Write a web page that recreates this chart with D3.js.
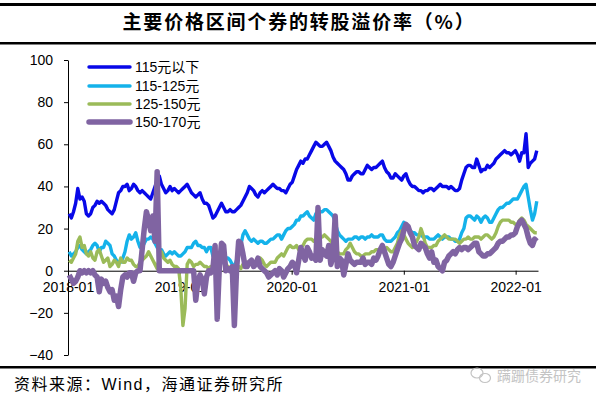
<!DOCTYPE html>
<html>
<head>
<meta charset="utf-8">
<script src="https://cdn.jsdelivr.net/npm/d3@7"></script>
<style>
    body { margin: 0; background: #fff; }
    text { font-family: "Liberation Sans", Arial, "Noto Sans CJK SC", sans-serif; }
</style>
</head>
<body>
<script>
// weekly readings, first week ends 2018-01-05
const seriesNames = ["115元以下", "115-125元", "125-150元", "150-170元"];
const seriesColors = ["#0808E8", "#14B2EA", "#9BBB59", "#8064A2"];
const seriesWidths = [3.4, 3.4, 3.4, 5.5];

const below115 = [
    27, 25, 28, 32, 39, 34, 35, 33, 27, 26, 27, 30, 31, 33, 32, 33, 32, 31, 29, 28,
    27, 29, 33, 37, 38, 40, 40, 41, 38, 39, 41, 40, 38, 37, 38, 37, 36, 35, 34, 37,
    40, 43, 45, 41, 39, 37, 38, 40, 38, 39, 38, 37, 38, 39, 40, 41, 39, 37, 36, 35,
    36, 37, 34, 32, 32, 31, 28, 25, 26, 28, 30, 32, 30, 28, 28, 29, 28, 28, 29, 30,
    31, 33, 35, 37, 40, 39, 38, 36, 35, 37, 38, 37, 38, 39, 40, 41, 40, 39, 39, 38,
    38, 37, 39, 41, 42, 45, 48, 50, 52, 51, 53, 53, 55, 57, 59, 61, 60, 59, 59, 60,
    61, 59, 57, 54, 52, 51, 50, 49, 48, 46, 43, 43, 45, 46, 47, 47, 46, 46, 48, 50,
    49, 48, 49, 49, 50, 51, 52, 49, 47, 46, 44, 44, 46, 45, 44, 43, 45, 46, 43, 41,
    40, 40, 39, 38, 38, 37, 38, 38, 39, 39, 38, 39, 40, 41, 40, 40, 40, 39, 40, 39,
    38, 38, 39, 43, 46, 49, 50, 50, 49, 49, 53, 50, 47, 48, 48, 50, 49, 50, 51, 53,
    54, 55, 56, 57, 56, 56, 55, 56, 57, 55, 52, 56, 56, 65, 49, 51, 52, 53, 57
];
const from115to125 = [
    9, 7, 8, 9, 11, 12, 10, 9, 8, 9, 10, 12, 13, 12, 9, 11, 11, 14, 13, 12,
    8, 7, 5, 4, 4, 6, 9, 14, 17, 15, 16, 18, 14, 11, 11, 13, 15, 15, 16, 15,
    13, 11, 10, 10, 8, 7, 8, 9, 8, 9, 8, 7, 7, 8, 9, 11, 11, 11, 13, 14,
    12, 12, 11, 11, 9, 11, 11, 7, 5, 3, 2, 4, 5, 6, 6, 5, 3, 2, 5, 9,
    12, 17, 19, 17, 15, 14, 15, 14, 13, 14, 14, 13, 13, 14, 15, 15, 16, 17, 17, 15,
    17, 19, 20, 20, 21, 22, 24, 24, 26, 26, 27, 28, 26, 25, 24, 27, 28, 28, 28, 29,
    29, 28, 27, 26, 23, 19, 17, 16, 15, 14, 15, 15, 15, 16, 16, 15, 16, 16, 15, 16,
    16, 17, 16, 16, 16, 17, 17, 15, 14, 14, 14, 15, 16, 18, 19, 21, 23, 22, 20, 19,
    18, 18, 17, 17, 17, 16, 16, 16, 15, 15, 15, 16, 17, 16, 15, 16, 16, 16, 15, 15,
    14, 14, 15, 18, 20, 25, 26, 26, 25, 24, 26, 25, 23, 25, 26, 25, 23, 23, 25, 27,
    29, 30, 30, 31, 32, 32, 33, 34, 34, 34, 36, 38, 40, 41, 35, 29, 24, 27, 33
];
const from125to150 = [
    5, 4, 6, 8, 14, 16, 11, 12, 8, 7, 9, 6, 5, 9, 10, 7, 4, 5, 6, 2,
    3, 5, 4, 2, 6, 4, 4, 6, 5, 5, 3, 2, 2, 4, 5, 6, 7, 9, 7, 5,
    3, 1, 6, 9, 6, 5, 4, 5, 3, 2, 2, 1, -8, -26, -18, 3, 5, 4, 2, 3,
    3, 4, 3, 2, 2, 1, 2, 1, 1, 4, 6, 7, 8, 3, 2, 1, 2, 1, 2, 2,
    1, 3, 4, 4, 3, 4, 4, 4, 5, 6, 5, 3, 2, 3, 4, 4, 4, 6, 7, 8,
    7, 9, 11, 12, 11, 11, 12, 10, 11, 12, 14, 15, 15, 15, 14, 15, 15, 16, 16, 17,
    16, 15, 14, 12, 11, 9, 8, 8, 8, 10, 11, 13, 11, 9, 8, 8, 7, 7, 8, 8,
    8, 9, 9, 10, 10, 9, 9, 10, 11, 10, 9, 9, 11, 13, 17, 19, 17, 15, 13, 12,
    11, 12, 14, 16, 20, 17, 13, 11, 11, 11, 12, 12, 14, 15, 16, 17, 16, 15, 15, 15,
    15, 14, 13, 14, 15, 15, 16, 15, 15, 16, 16, 16, 15, 16, 17, 17, 16, 15, 16, 18,
    21, 23, 24, 24, 24, 24, 23, 23, 22, 22, 24, 25, 24, 22, 21, 20, 19, 18, 18
];
const from150to170 = [
    -2, -4, -6, -5, -3, 0, -1, 0, -1, 0, -1, 0, -2, -3, -10, -4, -6, -5, -8, -10,
    -9, -14, -12, -17, -9, -3, -2, -3, -1, -1, -5, -1, 0, 0, 10, 20, 28, 24, 19, 26,
    14, 47, 0, 0, 0, 0, 0, 0, 0, 0, 0, 0, 0, 0, 0, 0, 0, 0, 0, -14,
    -5, -2, -4, -11, -3, 0, -1, 1, 12, -23, 2, 13, 12, 0, 1, 0, 2, -26, 0, 14,
    13, 8, 2, 2, 4, 5, 2, 3, 6, 2, 1, 0, -1, -3, -2, -1, 0, -2, 1, 0,
    -3, -1, 1, 2, 4, 3, -1, 5, 11, 8, 5, 11, 9, 6, 7, 5, 30, 5, 10, 8,
    7, 12, 3, 7, 26, 2, 6, 5, -2, 3, 8, 5, 4, 3, 4, 4, 4, 6, 3, 4,
    4, 3, 6, 5, 7, 10, 12, 9, 6, 3, 2, 4, 7, 10, 13, 15, 19, 22, 21, 18,
    16, 12, 11, 10, 13, 12, 11, 8, 6, 9, 4, 5, 2, 1, 0, 4, 5, 7, 8, 9,
    8, 10, 11, 10, 11, 11, 10, 11, 12, 13, 13, 9, 8, 7, 7, 8, 8, 9, 10, 11,
    13, 14, 14, 15, 16, 16, 17, 17, 18, 21, 23, 24, 22, 20, 16, 13, 12, 15, 14
];
const seriesValues = [below115, from115to125, from125to150, from150to170];
const yTicks = [-40, -20, 0, 20, 40, 60, 80, 100];

const width = 596, height = 399;
const firstWeek = new Date(2018, 0, 5);
const dates = d3.range(below115.length).map(i => d3.timeDay.offset(firstWeek, 7 * i));

const svg = d3.select("body").append("svg")
    .attr("width", width)
    .attr("height", height);

svg.append("rect").attr("width", width).attr("height", height).attr("fill", "#fff");

// scales
const xScale = d3.scaleTime()
    .domain([new Date(2018, 0, 1), new Date(2022, 2, 15)])
    .range([68, 538]);
const yScale = d3.scaleLinear()
    .domain([-40, 100])
    .range([355, 60]);

// title and frame rules
svg.append("rect").attr("x", 0).attr("y", 3).attr("width", width).attr("height", 3).attr("fill", "#000");
svg.append("rect").attr("x", 0).attr("y", 42).attr("width", width).attr("height", 2.5).attr("fill", "#000");
svg.append("rect").attr("x", 0).attr("y", 366).attr("width", width).attr("height", 2.5).attr("fill", "#000");

svg.append("text")
    .attr("x", 299)
    .attr("y", 29)
    .attr("text-anchor", "middle")
    .style("font-family", "'Noto Sans CJK SC', sans-serif")
    .style("font-size", "19px")
    .style("font-weight", "bold")
    .style("letter-spacing", "1.8px")
    .text("主要价格区间个券的转股溢价率（%）");

// axes
const yAxis = d3.axisLeft(yScale)
    .tickValues(yTicks)
    .tickSize(4)
    .tickSizeOuter(0)
    .tickPadding(11);
const xAxis = d3.axisBottom(xScale)
    .ticks(d3.timeYear.every(1))
    .tickFormat(d3.timeFormat("%Y-%m"))
    .tickSize(4)
    .tickSizeOuter(0)
    .tickPadding(7);

const gy = svg.append("g")
    .attr("transform", "translate(68,0)")
    .call(yAxis);
const gx = svg.append("g")
    .attr("transform", "translate(0," + yScale(0) + ")")
    .call(xAxis);

[gx, gy].forEach(g => {
    g.selectAll("path, line").attr("stroke", "#000").attr("stroke-width", 1);
    g.selectAll("text")
        .attr("fill", "#000")
        .style("font-size", "14px");
});

// series lines
const line = d3.line()
    .x((d, i) => xScale(dates[i]))
    .y(d => yScale(d));

seriesValues.forEach((vals, k) => {
    svg.append("path")
        .datum(vals)
        .attr("fill", "none")
        .attr("stroke", seriesColors[k])
        .attr("stroke-width", seriesWidths[k])
        .attr("stroke-linejoin", "round")
        .attr("d", line);
});

// legend
const legendY = [67, 86, 104, 122];
seriesNames.forEach((name, k) => {
    svg.append("line")
        .attr("x1", 89).attr("x2", 130)
        .attr("y1", legendY[k]).attr("y2", legendY[k])
        .attr("stroke", seriesColors[k])
        .attr("stroke-width", seriesWidths[k])
        .attr("stroke-linecap", "round");
    svg.append("text")
        .attr("x", 135)
        .attr("y", legendY[k])
        .attr("dy", "0.35em")
        .style("font-size", "14px")
        .text(name);
});

// source note
svg.append("text")
    .attr("x", 14)
    .attr("y", 390)
    .style("font-size", "16px")
    .style("letter-spacing", "1.5px")
    .text("资料来源：Wind，海通证券研究所");

// watermark
const wm = svg.append("g").attr("fill", "none").attr("stroke", "#c4c4c4").attr("stroke-width", 1.2);
wm.append("ellipse").attr("cx", 477).attr("cy", 373).attr("rx", 6).attr("ry", 5);
wm.append("ellipse").attr("cx", 485).attr("cy", 378).attr("rx", 5.5).attr("ry", 4.5);
svg.append("text")
    .attr("x", 497)
    .attr("y", 381)
    .attr("fill", "#c4c4c4")
    .style("font-size", "14px")
    .text("蹒跚债券研究");
</script>
</body>
</html>
